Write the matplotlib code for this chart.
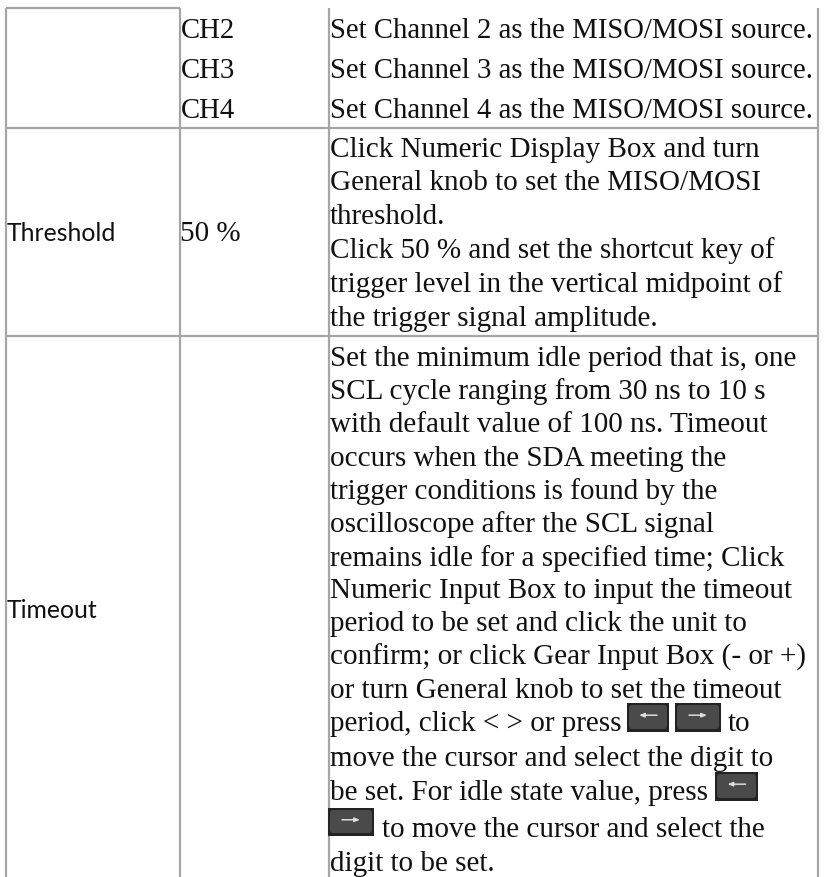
import matplotlib
matplotlib.use('Agg')
import matplotlib.pyplot as plt
from matplotlib.patches import Rectangle, FancyBboxPatch

W, H = 824, 878

channels = ['CH2', 'CH3', 'CH4']
source_text = ['Set Channel 2 as the MISO/MOSI source.',
               'Set Channel 3 as the MISO/MOSI source.',
               'Set Channel 4 as the MISO/MOSI source.']
threshold_name = 'Threshold'
threshold_value = '50 %'
threshold_text = ['Click Numeric Display Box and turn',
                  'General knob to set the MISO/MOSI',
                  'threshold.',
                  'Click 50 % and set the shortcut key of',
                  'trigger level in the vertical midpoint of',
                  'the trigger signal amplitude.']
timeout_name = 'Timeout'
timeout_text = ['Set the minimum idle period that is, one',
                'SCL cycle ranging from 30 ns to 10 s',
                'with default value of 100 ns. Timeout',
                'occurs when the SDA meeting the',
                'trigger conditions is found by the',
                'oscilloscope after the SCL signal',
                'remains idle for a specified time; Click',
                'Numeric Input Box to input the timeout',
                'period to be set and click the unit to',
                'confirm; or click Gear Input Box (- or +)',
                'or turn General knob to set the timeout',
                'period, click < > or press',
                'move the cursor and select the digit to',
                'be set. For idle state value, press',
                'to move the cursor and select the',
                'digit to be set.']
key_text = 'to'

# layout, in pixels of the original page
col_x = [6, 180, 329, 818]
row_y = [9, 128.5, 337]
source_base = [38, 78, 118]
threshold_base = [157, 190.5, 224, 258, 292, 326]
timeout_base = [366, 399, 432, 466, 499, 532, 566, 598, 631, 665, 698, 731,
                766, 800, 837, 871]
timeout_x = [330] * 14 + [382, 330]
# x0, y0, x1, y1, arrow direction
keys = [(627, 704, 669, 733, -1), (675, 704, 721, 733, 1),
        (715, 773, 758, 802, -1), (328, 809, 374, 837, 1)]

SERIF = 'Liberation Serif'
SANS = 'Lato'
SOURCE_SIZE = 20.7
SERIF_SIZE = 21
SANS_SIZE = 17.8
LINE = '#a6a6a6'
INK = '#111111'

fig = plt.figure(figsize=(W/100, H/100), dpi=100)
ax = fig.add_axes([0, 0, 1, 1])
ax.set_xlim(0, W)
ax.set_ylim(H, 0)
ax.axis('off')


def put(x, y, s, family=SERIF, size=SERIF_SIZE):
    ax.text(x, y, s, family=family, fontsize=size, color=INK, ha='left', va='baseline')


# grid lines
for x in col_x:
    ax.plot([x, x], [row_y[0], H], color=LINE, lw=1.6, solid_capstyle='butt')
ax.plot([col_x[0], col_x[1]], [row_y[0], row_y[0]], color=LINE, lw=1.6, solid_capstyle='butt')
for y in row_y[1:]:
    ax.plot([col_x[0], col_x[3]], [y, y], color=LINE, lw=1.6, solid_capstyle='butt')

# first row
for s, y in zip(channels, source_base):
    put(col_x[1] + 0.5, y, s, size=SOURCE_SIZE)
for s, y in zip(source_text, source_base):
    put(col_x[2] + 1, y, s, size=SOURCE_SIZE)

# threshold row
put(col_x[0] + 1, 241.5, threshold_name, SANS, SANS_SIZE)
put(col_x[1] + 0.5, 241.5, threshold_value)
for s, y in zip(threshold_text, threshold_base):
    put(col_x[2] + 1, y, s)

# timeout row
put(col_x[0] + 1, 618, timeout_name, SANS, SANS_SIZE)
for s, y, x in zip(timeout_text, timeout_base, timeout_x):
    put(x, y, s)
put(728, timeout_base[11], key_text)

# arrow keys
for x0, y0, x1, y1, d in keys:
    ax.add_patch(Rectangle((x0, y0), x1 - x0, y1 - y0, facecolor='#232323', edgecolor='none', zorder=3))
    ax.add_patch(FancyBboxPatch((x0 + 2, y0 + 2), x1 - x0 - 4, y1 - y0 - 5,
                                boxstyle='round,pad=0,rounding_size=3',
                                facecolor='#4a4a4a', edgecolor='none', zorder=4))
    xm = (x0 + x1) / 2
    ym = y0 + (y1 - y0) * 0.42
    ax.annotate('', xy=(xm + d * 9, ym), xytext=(xm - d * 9, ym), zorder=5,
                arrowprops=dict(arrowstyle='-|>,head_width=0.12,head_length=0.3',
                                color='#dddddd', lw=1.1, shrinkA=0, shrinkB=0))

fig.savefig('out.png', dpi=100, facecolor='white')
